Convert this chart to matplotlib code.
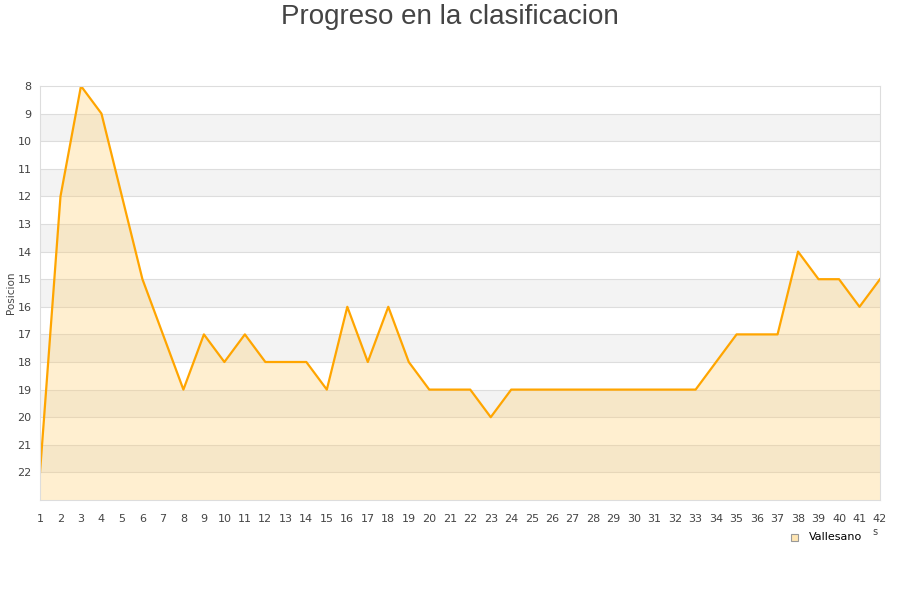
import matplotlib
matplotlib.use("Agg")
import matplotlib.pyplot as plt
from matplotlib.patches import Rectangle

# jornadas y posicion
jornadas = list(range(1, 43))
posicion = [22, 12, 8, 9, 12, 15, 17, 19, 17, 18, 17, 18, 18, 18, 19, 16, 18, 16, 18, 19,
            19, 19, 20, 19, 19, 19, 19, 19, 19, 19, 19, 19, 19, 18, 17, 17, 17, 14, 15, 15,
            16, 15]
y_ticks = list(range(8, 23))
serie = "Vallesano"

fig = plt.figure(figsize=(9, 6), dpi=100)
ax = fig.add_axes([40 / 900, 1 - 500 / 600, 840 / 900, 414 / 600])
ax.set_xlim(1, 42)
ax.set_ylim(23, 8)

# bandas alternas
for y0 in range(8, 23):
    if y0 % 2 == 1:
        ax.axhspan(y0, y0 + 1, color="#f3f3f3", zorder=0, lw=0)
for y0 in range(9, 23):
    ax.axhline(y0, color="#dddddd", lw=0.8, zorder=0.5)

ax.fill_between(jornadas, posicion, 23, color="#ffcc66", alpha=0.3, lw=0, zorder=1)
ax.plot(jornadas, posicion, color="#ffa500", lw=1.6, zorder=2)

ax.set_xticks(jornadas)
ax.set_yticks(y_ticks)
ax.tick_params(length=0, labelsize=8, colors="#444444", pad=6)
ax.tick_params(axis="x", pad=10)
for s in ax.spines.values():
    s.set_color("#dddddd")
ax.set_ylabel("Posicion", fontsize=7.5, color="#444444")
ax.yaxis.set_label_coords(-0.028, 0.5)

fig.text(0.5, 1 - 17 / 600, "Progreso en la clasificacion", ha="center", va="center",
         fontsize=20, color="#444444", family="Liberation Sans")

# leyenda
fig.patches.append(Rectangle((791 / 900, 1 - 541 / 600), 7 / 900, 7 / 600,
                             transform=fig.transFigure, fc="#ffe6b3", ec="#999999", lw=0.8))
fig.text(809 / 900, 1 - 537 / 600, serie, fontsize=8, color="#000000", va="center")
fig.text(875 / 900, 1 - 532 / 600, "s", fontsize=7, color="#444444", va="center", ha="center")

fig.savefig("out.png", dpi=100)
